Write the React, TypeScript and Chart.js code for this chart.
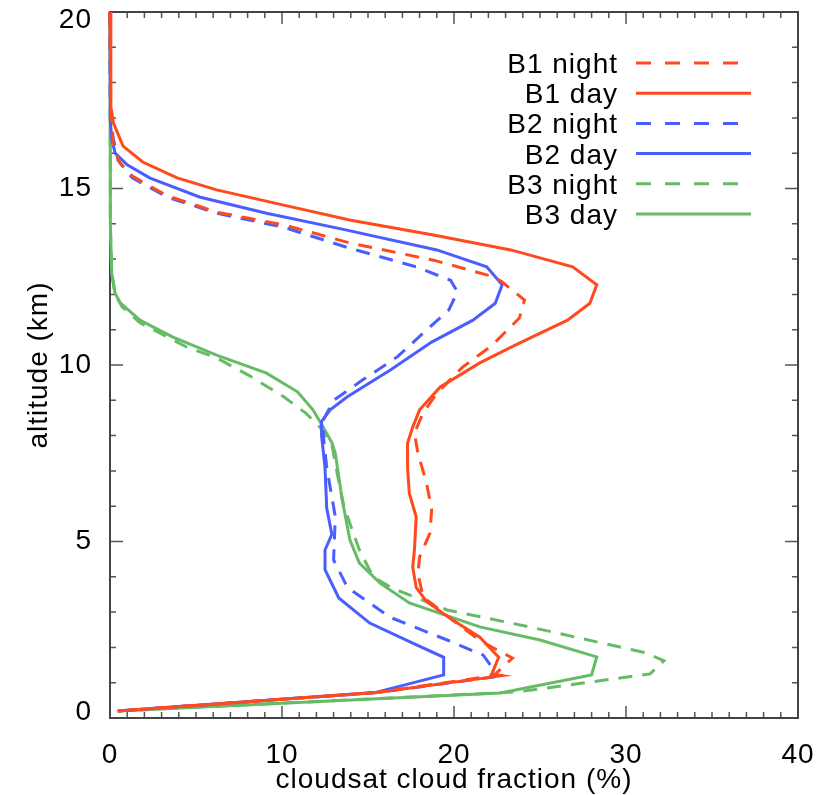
import React, { useEffect, useRef } from 'react';
import { Chart, registerables } from 'chart.js';

Chart.register(...registerables);

const FONT = '"Liberation Sans", Arial, Helvetica, sans-serif';

const seriesLabels = ['B1 night', 'B1 day', 'B2 night', 'B2 day', 'B3 night', 'B3 day'];
const seriesColors = ['#ff4a1e', '#ff4a1e', '#4a5eff', '#4a5eff', '#66bb66', '#66bb66'];
const seriesDashed = [true, false, true, false, true, false];

// B1 night (red dashed)
const b1NightAlt = [20, 17.0, 16.2, 15.7, 15.35, 14.8, 14.33, 13.97, 13.45, 12.97, 12.5, 12.35, 11.84, 11.33, 10.55, 9.94, 9.2, 8.64, 8.07, 7.5, 6.66, 5.9, 5.24, 4.56, 4.1, 3.43, 2.78, 2.2, 1.85, 1.7, 1.2, 0.72, 0.2];
const b1NightFrac = [0, 0.05, 0.2, 0.6, 1.3, 3.3, 6.2, 10.1, 14.0, 18.8, 22.3, 22.8, 24.1, 23.8, 22.2, 20.5, 19.0, 18.2, 17.7, 17.9, 18.4, 18.7, 18.6, 18.0, 17.9, 18.2, 19.9, 21.5, 22.8, 23.4, 22.3, 15.5, 0.45];

// B1 day (red solid)
const b1DayAlt = [20, 17.3, 16.85, 16.2, 15.75, 15.3, 14.96, 14.53, 14.1, 13.68, 13.26, 12.78, 12.27, 11.75, 11.27, 10.55, 10.06, 9.38, 8.73, 8.24, 7.79, 7.1, 6.37, 5.7, 4.76, 4.28, 3.7, 3.3, 2.78, 2.29, 1.72, 1.25, 1.2, 0.72, 0.2];
const b1DayFrac = [0, 0.05, 0.2, 0.76, 1.9, 3.9, 6.2, 10.1, 14.0, 18.8, 23.3, 26.9, 28.3, 27.9, 26.6, 23.5, 21.5, 19.2, 18.0, 17.6, 17.3, 17.3, 17.4, 17.8, 17.7, 17.6, 17.8, 18.4, 19.9, 21.5, 22.6, 22.2, 22.8, 15.5, 0.45];

// B2 night (blue dashed)
const b2NightAlt = [20, 17.0, 16.4, 15.8, 15.3, 14.76, 14.3, 13.9, 13.3, 12.78, 12.4, 12.07, 11.56, 10.9, 10.23, 9.58, 9.0, 8.44, 8.0, 7.1, 5.7, 4.48, 3.7, 2.85, 2.21, 1.78, 1.44, 1.16, 0.72, 0.2];
const b2NightFrac = [0, 0.02, 0.2, 0.47, 1.3, 3.3, 6.2, 10.1, 14.0, 17.8, 19.8, 20.2, 19.7, 18.2, 16.7, 14.7, 13.0, 12.4, 12.4, 12.6, 13.1, 13.0, 13.8, 16.3, 19.6, 21.7, 22.2, 22.3, 15.5, 0.45];

// B2 day (blue solid)
const b2DayAlt = [20, 16.9, 16.4, 16.0, 15.67, 15.3, 14.76, 14.3, 13.85, 13.26, 12.78, 12.27, 11.75, 11.27, 10.65, 9.86, 9.1, 8.73, 8.4, 8.0, 7.1, 5.95, 5.2, 4.76, 4.2, 3.4, 2.69, 2.12, 1.72, 1.22, 0.72, 0.2];
const b2DayFrac = [0, 0.02, 0.1, 0.3, 1.0, 2.3, 5.2, 9.1, 13.5, 19.0, 21.9, 22.8, 22.4, 21.1, 18.7, 16.3, 13.8, 12.8, 12.3, 12.3, 12.5, 12.6, 12.9, 12.5, 12.5, 13.3, 15.1, 17.6, 19.4, 19.4, 15.4, 0.45];

// B3 night (green dashed)
const b3NightAlt = [20, 14.0, 12.6, 12.0, 11.65, 11.2, 10.8, 10.5, 10.2, 9.7, 9.1, 8.63, 8.24, 7.75, 6.7, 6.0, 5.3, 4.76, 4.0, 3.68, 3.06, 2.58, 1.84, 1.62, 1.25, 0.99, 0.74, 0.2];
const b3NightFrac = [0, 0.02, 0.1, 0.3, 0.7, 1.74, 3.3, 4.5, 6.2, 8.1, 10.1, 11.4, 12.2, 12.9, 13.3, 13.6, 14.1, 14.5, 15.3, 16.4, 19.6, 24.4, 31.2, 32.2, 31.4, 27.5, 23.7, 0.45];

// B3 day (green solid)
const b3DayAlt = [20, 14.0, 12.6, 12.04, 11.76, 11.27, 10.79, 10.28, 9.77, 9.24, 8.73, 8.24, 7.8, 7.5, 6.18, 5.04, 4.39, 3.82, 3.26, 2.58, 2.21, 1.73, 1.22, 0.71, 0.2];
const b3DayFrac = [0, 0.02, 0.1, 0.29, 0.6, 1.74, 3.66, 6.2, 9.1, 10.9, 11.8, 12.4, 12.9, 13.1, 13.5, 13.95, 14.5, 15.7, 17.4, 21.5, 25.0, 28.3, 28.0, 22.7, 0.45];

const seriesAlt = [b1NightAlt, b1DayAlt, b2NightAlt, b2DayAlt, b3NightAlt, b3DayAlt];
const seriesFrac = [b1NightFrac, b1DayFrac, b2NightFrac, b2DayFrac, b3NightFrac, b3DayFrac];

const xMin = 0, xMax = 40, xStep = 10, xMinorStep = 1;
const yMin = 0, yMax = 20, yStep = 5, yMinorStep = 1;

const textSpacing = {
  id: 'textSpacing',
  beforeDraw(chart: any) {
    (chart.ctx as any).letterSpacing = '1px';
    // keep the end labels of the altitude axis inside the frame, as in the original plot
    const ys = chart.scales.y;
    if (ys && typeof ys.getLabelItems === 'function') {
      const items = ys.getLabelItems(chart.chartArea);
      items.forEach((it: any) => {
        const t = it.options && it.options.translation;
        if (!t || it._shifted) return;
        if (String(it.label) === String(yMax)) t[1] += 8;
        else if (String(it.label) === String(yMin)) t[1] -= 6;
        it._shifted = true;
      });
    }
  },
};

const frameTicks = {
  id: 'frameTicks',
  beforeDatasetsDraw(chart: any) {
    const { ctx, chartArea, scales } = chart;
    const { left, right, top, bottom } = chartArea;
    const xs = scales.x, ys = scales.y;
    ctx.save();
    ctx.strokeStyle = '#555';
    ctx.lineWidth = 1.5;
    ctx.beginPath();
    for (let v = xMin; v <= xMax + 1e-9; v += xMinorStep) {
      const px = xs.getPixelForValue(v);
      const len = Math.abs(v % xStep) < 1e-9 ? 12 : 6;
      ctx.moveTo(px, bottom); ctx.lineTo(px, bottom - len);
      ctx.moveTo(px, top); ctx.lineTo(px, top + len);
    }
    for (let v = yMin; v <= yMax + 1e-9; v += yMinorStep) {
      const py = ys.getPixelForValue(v);
      const len = Math.abs(v % yStep) < 1e-9 ? 13 : 6;
      ctx.moveTo(left, py); ctx.lineTo(left + len, py);
      ctx.moveTo(right, py); ctx.lineTo(right - len, py);
    }
    ctx.stroke();
    ctx.strokeStyle = '#444';
    ctx.lineWidth = 2;
    ctx.strokeRect(left, top, right - left, bottom - top);
    ctx.restore();
  },
};

const sideLegend = {
  id: 'sideLegend',
  afterDraw(chart: any) {
    const { ctx } = chart;
    ctx.save();
    (ctx as any).letterSpacing = '1px';
    ctx.font = `28px ${FONT}`;
    ctx.textAlign = 'right';
    ctx.textBaseline = 'alphabetic';
    chart.data.datasets.forEach((ds: any, i: number) => {
      const cy = 63 + i * 30.2;
      ctx.fillStyle = '#000';
      ctx.fillText(ds.label, 618, cy + 10);
      ctx.strokeStyle = ds.borderColor;
      ctx.lineWidth = 3;
      ctx.beginPath();
      if (seriesDashed[i]) {
        ctx.setLineDash([15, 14]);
        ctx.moveTo(636, cy); ctx.lineTo(738, cy);
      } else {
        ctx.setLineDash([]);
        ctx.moveTo(636, cy); ctx.lineTo(751, cy);
      }
      ctx.stroke();
    });
    ctx.restore();
  },
};

export default function App() {
  const ref = useRef<HTMLCanvasElement | null>(null);

  useEffect(() => {
    if (!ref.current) return;
    const datasets = seriesLabels.map((label, i) => ({
      label,
      data: seriesAlt[i].map((a, k) => ({ x: seriesFrac[i][k], y: a })),
      borderColor: seriesColors[i],
      backgroundColor: seriesColors[i],
      borderWidth: 3,
      borderDash: seriesDashed[i] ? [14, 10] : [],
      pointRadius: 0,
      showLine: true,
      fill: false,
      tension: 0,
      clip: false as any,
    }));

    const chart = new Chart(ref.current, {
      type: 'scatter',
      data: { datasets },
      options: {
        animation: false,
        responsive: false,
        maintainAspectRatio: false,
        layout: { padding: { left: 0, right: 35, top: 12, bottom: 0 } },
        plugins: { legend: { display: false }, tooltip: { enabled: false } },
        scales: {
          x: {
            type: 'linear',
            min: xMin,
            max: xMax,
            grid: { display: false },
            border: { display: false },
            ticks: { stepSize: xStep, padding: 12, color: '#000', font: { size: 28, family: FONT }, maxRotation: 0 },
            title: {
              display: true,
              text: 'cloudsat cloud fraction (%)',
              color: '#000',
              font: { size: 28, family: FONT, lineHeight: 1 },
              padding: { top: 0, bottom: 1 },
            },
            afterFit(s: any) { s.height = 77; s.paddingLeft = 0; s.paddingRight = 0; },
          },
          y: {
            type: 'linear',
            min: yMin,
            max: yMax,
            grid: { display: false },
            border: { display: false },
            ticks: { stepSize: yStep, padding: 10, color: '#000', font: { size: 28, family: FONT } },
            title: {
              display: true,
              text: 'altitude (km)',
              color: '#000',
              font: { size: 28, family: FONT, lineHeight: 1 },
              padding: { top: 25, bottom: 0 },
            },
            afterFit(s: any) { s.width = 110; s.paddingTop = 0; s.paddingBottom = 0; },
          },
        },
      },
      plugins: [textSpacing, frameTicks, sideLegend],
    });
    return () => chart.destroy();
  }, []);

  return (
    <div style={{ position: 'absolute', left: 0, top: 0, width: 833, height: 795, background: '#fff' }}>
      <canvas ref={ref} width={833} height={795} style={{ display: 'block', width: 833, height: 795 }} />
    </div>
  );
}
